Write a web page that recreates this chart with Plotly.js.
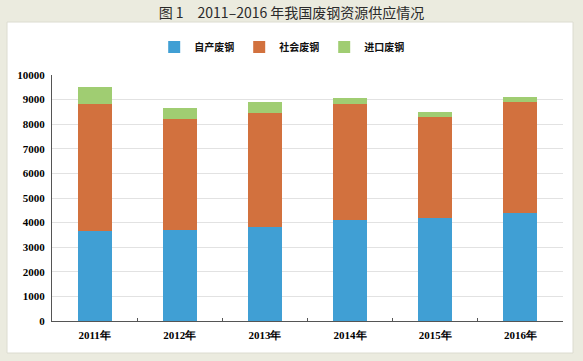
<!DOCTYPE html>
<html>
<head>
<meta charset="utf-8">
<script src="https://cdn.plot.ly/plotly-3.0.1.min.js"></script>
<style>html,body{margin:0;padding:0;background:#ebebdf;}#chart{width:583px;height:361px;}</style>
</head>
<body>
<div id="chart"></div>
<script>
const years = ["2011年", "2012年", "2013年", "2014年", "2015年", "2016年"];
const domestic = [3660, 3700, 3830, 4100, 4180, 4380];   // 自产废钢
const social = [5150, 4500, 4640, 4710, 4100, 4540];     // 社会废钢
const imported = [720, 450, 450, 240, 200, 200];         // 进口废钢
const seriesNames = ["自产废钢", "社会废钢", "进口废钢"];
const yTicks = [0, 1000, 2000, 3000, 4000, 5000, 6000, 7000, 8000, 9000, 10000];
const yTickText = ["0", "1000", "2000", "3000", "4000", "5000", "6000", "7000", "8000", "9000", "10000"];

const colors = ["#409fd4", "#d2713e", "#a0cd72"];
const values = [domestic, social, imported];
const traces = values.map((v, i) => ({
  type: "bar",
  name: seriesNames[i],
  x: years,
  y: v,
  marker: {color: colors[i], line: {width: 0}},
  hoverinfo: "skip"
}));

const layout = {
  width: 583,
  height: 361,
  paper_bgcolor: "#ebebdf",
  plot_bgcolor: "rgba(0,0,0,0)",
  barmode: "stack",
  bargap: 0.6,
  margin: {l: 52, r: 20, t: 75, b: 40},
  title: {
    text: "图 1　2011–2016 年我国废钢资源供应情况",
    font: {family: "Noto Sans CJK SC", size: 14, color: "#2a2a2a"},
    x: 0.5, xanchor: "center", y: 0.964, yanchor: "middle", yref: "container"
  },
  showlegend: true,
  legend: {
    orientation: "h",
    x: 0.2, xanchor: "left",
    y: 1.114, yanchor: "middle",
    font: {family: "Noto Sans CJK SC", size: 10, color: "#111", weight: "bold"},
    itemwidth: 30,
    bgcolor: "rgba(0,0,0,0)",
    traceorder: "normal"
  },
  xaxis: {
    type: "category",
    showline: true, linecolor: "#555", linewidth: 1,
    ticks: "inside", ticklen: 3, tickcolor: "#555",
    tickson: "boundaries",
    showgrid: false,
    tickfont: {family: "Liberation Serif", size: 11, color: "#000", weight: "bold"},
    ticklabelstandoff: 4,
    fixedrange: true
  },
  yaxis: {
    range: [0, 10000],
    tickvals: yTicks,
    ticktext: yTickText,
    showline: true, linecolor: "#555", linewidth: 1,
    showgrid: true, gridcolor: "#e2e2e2", gridwidth: 1,
    zeroline: false,
    ticks: "",
    tickfont: {family: "Liberation Serif", size: 11, color: "#000", weight: "bold"},
    ticklabelstandoff: 4,
    fixedrange: true
  },
  shapes: [{
    type: "rect", xref: "paper", yref: "paper", layer: "below",
    x0: (7 - 52) / 511, x1: (573 - 52) / 511,
    y0: -(353 - 321) / 246, y1: 1 + 53 / 246,
    fillcolor: "#ffffff", line: {color: "#dcdcd0", width: 1}
  }]
};

Plotly.newPlot("chart", traces, layout, {displayModeBar: false, staticPlot: true});
</script>
</body>
</html>
